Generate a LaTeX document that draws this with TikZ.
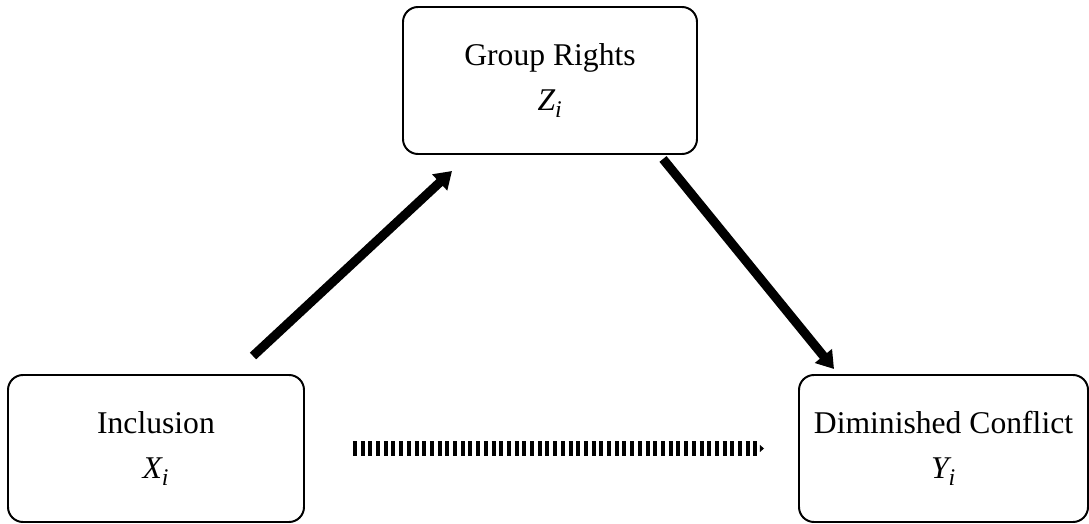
\documentclass[tikz,border=0pt]{standalone}
\usepackage{fontspec}
\setmainfont{Liberation Serif}
\usetikzlibrary{arrows.meta}

\newcommand{\varsym}[1]{$\textit{#1}_{\raisebox{-2pt}{\fontsize{17}{17}\selectfont\itshape i}}$}

\tikzset{
  varbox/.style={draw, line width=1.4pt, rounded corners=0.375cm, minimum height=3.675cm, align=center, font=\fontsize{22.5}{32}\selectfont},
  patharrow/.style={line width=6.5pt, -{Triangle[length=12pt,width=15pt]}},
  directarrow/.style={line width=10pt, dash pattern=on 0.1cm off 0.0925cm, -{Triangle[length=3pt,width=5pt]}}
}

\begin{document}
\begin{tikzpicture}
	\def\W{27.225};
	\def\H{13.075};
	\def\yB{1.8625};
	
	\useasboundingbox (0,0) rectangle (\W,\H);
	
	\node [varbox, minimum width=7.35cm] (Z) at (13.75,11.0625) {Group Rights\\\varsym{Z}};
	\node [varbox, minimum width=7.4cm] (X) at (3.9,\yB) {Inclusion\\\varsym{X}};
	\node [varbox, minimum width=7.225cm] (Y) at (23.5875,\yB) {Diminished Conflict\\\varsym{Y}};
	
	\begin{scope}[patharrow]
		\draw ([shift={(-1.3,0.45)}]X.north east) -- ([shift={(1.25,-0.4)}]Z.south west);
		\draw ([shift={(-0.875,-0.1)}]Z.south east) -- ([shift={(0.9,0.125)}]Y.north west);
	\end{scope}
	
	\draw [directarrow] ([xshift=1.2cm]X.east) -- ([xshift=-0.85cm]Y.west);
\end{tikzpicture}
\end{document}
